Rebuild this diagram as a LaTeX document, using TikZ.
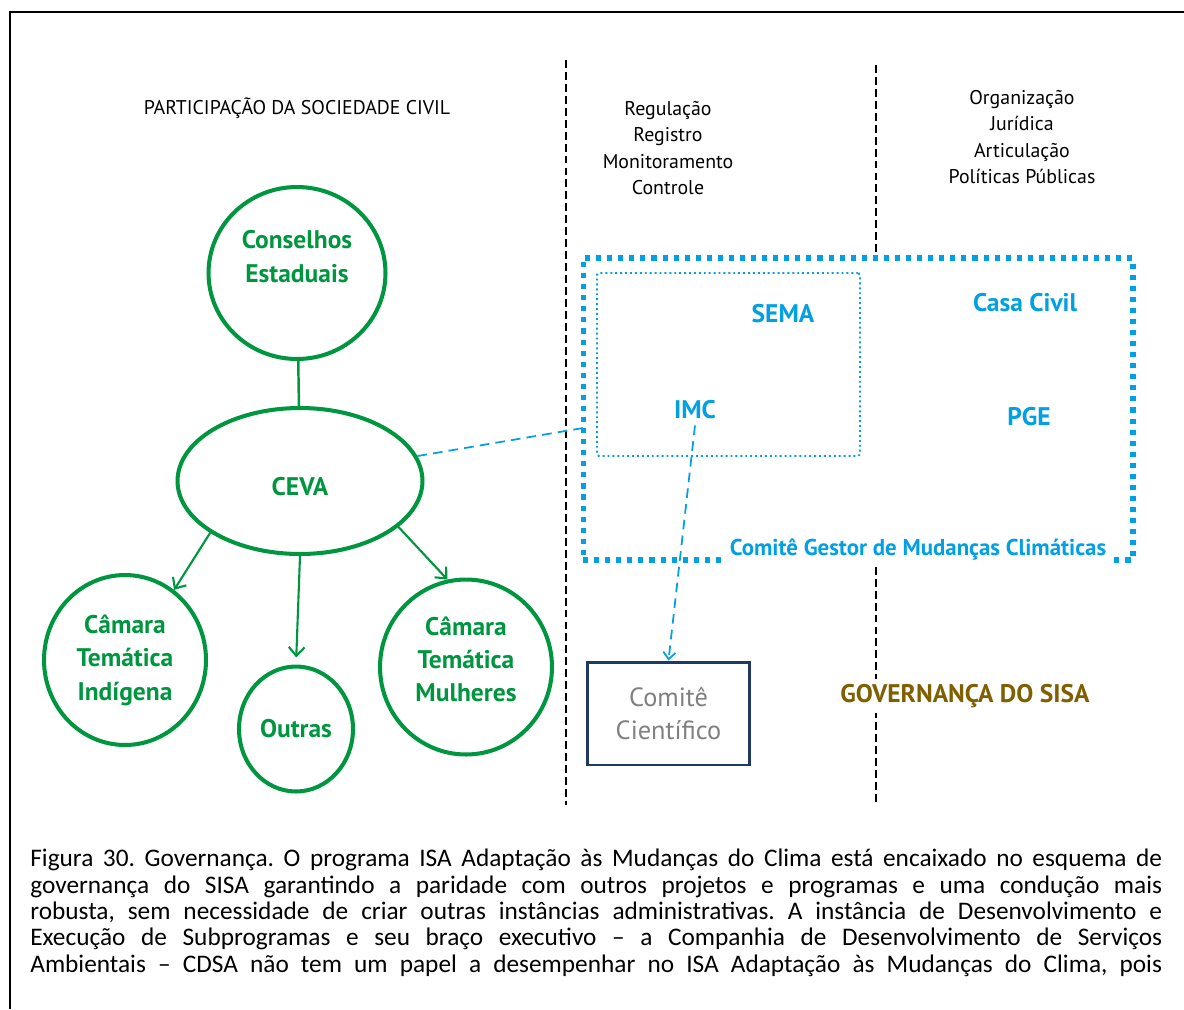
\documentclass[tikz,border=0pt]{standalone}
\usepackage{fontspec}
\setmainfont{PT Sans}
\newfontfamily\capfont{Carlito}
\usetikzlibrary{arrows.meta,shapes.geometric}
\definecolor{verde}{HTML}{009640}
\definecolor{azul}{HTML}{00A0E3}
\definecolor{marinho}{HTML}{1F3864}
\definecolor{oliva}{HTML}{7F6000}
\definecolor{cinza}{HTML}{808080}
\tikzset{
  circ/.style={ellipse, draw=verde, line width=2.3pt, text=verde, align=center, inner sep=1pt,
    font=\fontsize{14.5}{19}\selectfont\bfseries},
  liga/.style={draw=verde, line width=1.4pt},
  seta/.style={draw=verde, line width=1.2pt, -{Straight Barb[length=5pt,width=9pt]}},
  traco/.style={draw=azul, line width=1pt, dash pattern=on 5.5pt off 3.5pt},
  divis/.style={draw=black, line width=1.1pt, dash pattern=on 4.5pt off 2.3pt},
  head/.style={align=center, font=\fontsize{11.3}{15}\selectfont},
  orgao/.style={text=azul, font=\fontsize{14.5}{19}\selectfont\bfseries},
  gestor/.style={draw=azul, fill=white, line width=2.9pt, dash pattern=on 2.9pt off 3.4pt,
    minimum width=11cm, minimum height=6.04cm},
  sema/.style={draw=azul, line width=1.1pt, dash pattern=on 1.1pt off 1.7pt, rounded corners=1pt,
    minimum width=5.26cm, minimum height=3.66cm},
}

\begin{document}
\begin{tikzpicture}[x=0.02cm,y=-0.02cm]
  \useasboundingbox (0,0) rectangle (1184,1009);
  % moldura
  \draw[line width=1.3pt] (10,1009) -- (10,12) -- (1184,12);
  % divisores
  \draw[divis] (566,60) -- (566,805);
  \draw[divis] (876,65) -- (876,805);

  % cabecalhos
  \node[head] (soc) at (297,108) {PARTICIPAÇÃO DA SOCIEDADE CIVIL};
  \node[head] (reg) at (668,148) {Regulação\\Registro\\Monitoramento\\Controle};
  \node[head] (org) at (1022,137) {Organização\\Jurídica\\Articulação\\Políticas Públicas};

  % sociedade civil
  \node[circ, minimum width=3.54cm, minimum height=3.44cm] (cons) at (297,273) {Conselhos\\Estaduais\\~};
  \node[circ, minimum width=4.9cm, minimum height=2.92cm, text height=17pt, text depth=0pt] (ceva) at (300,481) {CEVA};
  \node[circ, minimum width=3.24cm, minimum height=3.4cm] (ind) at (125,660) {Câmara\\Temática\\Indígena};
  \node[circ, minimum width=2.28cm, minimum height=2.5cm] (outras) at (296,729) {Outras};
  \node[circ, minimum width=3.44cm, minimum height=3.5cm, text depth=9pt] (mul) at (466,667) {Câmara\\Temática\\Mulheres};
  \draw[liga] (cons) -- (ceva);
  \draw[seta] (ceva.210) -- (ind.55);
  \draw[seta, shorten >=4pt] (ceva.south) -- (outras.north);
  \draw[seta] (ceva.-25) -- (mul.102);

  % comite gestor
  \node[gestor] (cg) at (858,409) {};
  \node[sema] (semabox) at (728.5,364.5) {};
  \node[orgao] (sema) at (783,314) {SEMA};
  \node[orgao] (imc) at (695,410) {IMC};
  \node[orgao] (casa) at (1025,303) {Casa Civil};
  \node[orgao] (pge) at (1029,417) {PGE};
  \node[fill=white, text=azul, inner sep=3pt, font=\fontsize{13}{16}\selectfont\bfseries] (cglab) at (918,550) {Comitê Gestor de Mudanças Climáticas};
  \coordinate (link) at (583,428);
  \draw[traco] (ceva.12) -- (link);

  % comite cientifico
  \node[draw=marinho, line width=1.7pt, minimum width=3.26cm, minimum height=2.06cm, align=center,
    text=cinza, font=\fontsize{15}{18.8}\selectfont] (cc) at (668.5,713.5) {Comitê\\Científico};
  \draw[traco, -{Straight Barb[length=4pt,width=7pt]}] (imc.south) -- (cc.north);

  \node[fill=white, text=oliva, inner sep=3pt, font=\fontsize{14.5}{19}\selectfont\bfseries] (gov) at (965,696) {GOVERNANÇA DO SISA};

  % legenda
  \node[anchor=north west, inner sep=0pt, text width=22.64cm, align=justify,
    font=\capfont\fontsize{14.4}{15}\selectfont\frenchspacing] (leg) at (30,849)
    {Figura 30. Governança. O programa ISA Adaptação às Mudanças do Clima está encaixado no esquema de\linebreak
    governança do SISA garantindo a paridade com outros projetos e programas e uma condução mais\linebreak
    robusta, sem necessidade de criar outras instâncias administrativas. A instância de Desenvolvimento e\linebreak
    Execução de Subprogramas e seu braço executivo – a Companhia de Desenvolvimento de Serviços\linebreak
    Ambientais – CDSA não tem um papel a desempenhar no ISA Adaptação às Mudanças do Clima, pois\parfillskip=0pt\par};
\end{tikzpicture}
\end{document}
